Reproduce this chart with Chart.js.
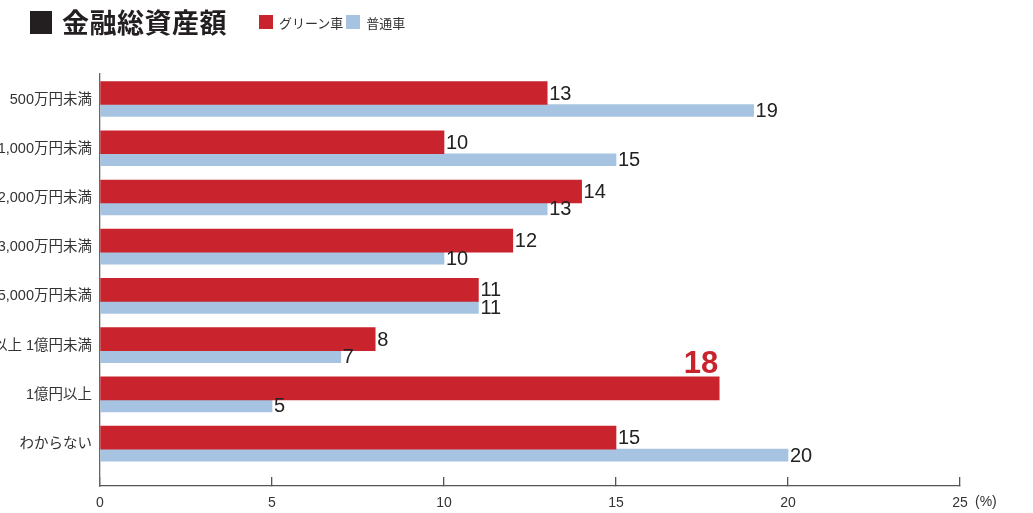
<!DOCTYPE html>
<html lang="ja">
<head>
<meta charset="utf-8">
<title>金融総資産額</title>
<script src="https://cdn.jsdelivr.net/npm/chart.js@4.4.1/dist/chart.umd.min.js"></script>
<style>
    html, body { margin: 0; padding: 0; background: #fff; }
    #wrap { position: relative; width: 1033px; height: 513px; overflow: hidden; }
    #wrap canvas { position: absolute; left: 0; top: 0; }
    .head { position: absolute; left: 30px; top: 6px; display: flex; align-items: center;
            font-family: "Noto Sans CJK JP", sans-serif; color: #231f20; }
    .head .sq { width: 22px; height: 23px; background: #231f20; margin-right: 10px; }
    .head .ttl { font-size: 27px; font-weight: 700; letter-spacing: 0.5px; margin-right: 32px; line-height: 32px; }
    .leg { display: flex; align-items: center; font-size: 13px; color: #333; margin-right: 3px; }
    .leg i { display: inline-block; width: 14px; height: 14px; margin-right: 6px; }
</style>
</head>
<body>
<div id="wrap">
    <canvas id="assetChart"></canvas>
    <div class="head">
        <div class="sq"></div>
        <div class="ttl">金融総資産額</div>
        <div class="leg"><i style="background:#c9232d"></i>グリーン車</div>
        <div class="leg"><i style="background:#a6c4e1"></i>普通車</div>
    </div>
</div>
<script>
// --- Data ---
const categories = ['500万円未満', '1,000万円未満', '2,000万円未満', '3,000万円未満',
                    '5,000万円未満', '以上 1億円未満', '1億円以上', 'わからない'];
const greenValues = [13, 10, 14, 12, 11, 8, 18, 15];
const normalValues = [19, 15, 13, 10, 11, 7, 5, 20];
const xTicks = [0, 5, 10, 15, 20, 25];

const RED = '#c9232d';
const BLUE = '#a6c4e1';
const NUM_FONT = '"Liberation Sans", Arial, sans-serif';
const JP_FONT = '"Liberation Sans", "Noto Sans CJK JP", sans-serif';

// ラベル描画 (値 + 最大値の強調)
const valueLabels = {
    id: 'valueLabels',
    afterDatasetsDraw(chart) {
        const ctx = chart.ctx;
        const maxGreen = Math.max(...greenValues);
        ctx.save();
        chart.data.datasets.forEach((ds, di) => {
            const meta = chart.getDatasetMeta(di);
            meta.data.forEach((bar, i) => {
                const v = ds.data[i].x;
                if (di === 0 && v === maxGreen) {
                    ctx.font = 'bold 31px ' + NUM_FONT;
                    ctx.fillStyle = RED;
                    ctx.textAlign = 'right';
                    ctx.textBaseline = 'alphabetic';
                    ctx.fillText(v, bar.x - 1, bar.y - bar.height / 2 - 4);
                } else {
                    ctx.font = '20px ' + NUM_FONT;
                    ctx.fillStyle = '#222';
                    ctx.textAlign = 'left';
                    ctx.textBaseline = 'middle';
                    ctx.fillText(v, bar.x + 2, bar.y + 1);
                }
            });
        });
        // 単位
        const xs = chart.scales.x;
        ctx.font = '14px ' + NUM_FONT;
        ctx.fillStyle = '#333';
        ctx.textAlign = 'left';
        ctx.textBaseline = 'top';
        ctx.fillText('(%)', xs.getPixelForValue(25) + 15, chart.chartArea.bottom + 9);
        ctx.restore();
    }
};

const ctx = document.getElementById('assetChart');
new Chart(ctx, {
    type: 'bar',
    data: {
        datasets: [{
            label: 'グリーン車',
            data: greenValues.map((v, i) => ({ x: v, y: i })),
            backgroundColor: RED,
            barThickness: 23
        }, {
            label: '普通車',
            data: normalValues.map((v, i) => ({ x: v, y: i })),
            backgroundColor: BLUE,
            barThickness: 12
        }]
    },
    options: {
        indexAxis: 'y',
        responsive: true,
        maintainAspectRatio: false,
        animation: false,
        layout: { padding: { top: 74, right: 73, bottom: 1, left: 0 } },
        plugins: { legend: { display: false }, tooltip: { enabled: false } },
        scales: {
            x: {
                type: 'linear',
                min: 0,
                max: 25,
                afterBuildTicks: s => { s.ticks = xTicks.map(v => ({ value: v })); },
                afterFit: s => { s.height = 26; },
                grid: { drawOnChartArea: false, tickLength: -9, color: '#555', lineWidth: 1.3 },
                border: { color: '#555', width: 1.3 },
                ticks: { padding: 18, color: '#333', font: { family: NUM_FONT, size: 14 } }
            },
            y: {
                type: 'linear',
                reverse: true,
                offset: false,
                bounds: 'data',
                min: -0.62,
                max: 7.75,
                afterBuildTicks: s => { s.ticks = categories.map((c, i) => ({ value: i })); },
                afterFit: s => { s.width = 100; },
                grid: { display: false, drawTicks: false, offset: false },
                border: { color: '#666', width: 1.3 },
                ticks: {
                    padding: 8,
                    labelOffset: -5,
                    color: '#333',
                    font: { family: JP_FONT, size: 14.5 },
                    callback: v => categories[v]
                }
            }
        }
    },
    plugins: [valueLabels]
});
</script>
</body>
</html>
